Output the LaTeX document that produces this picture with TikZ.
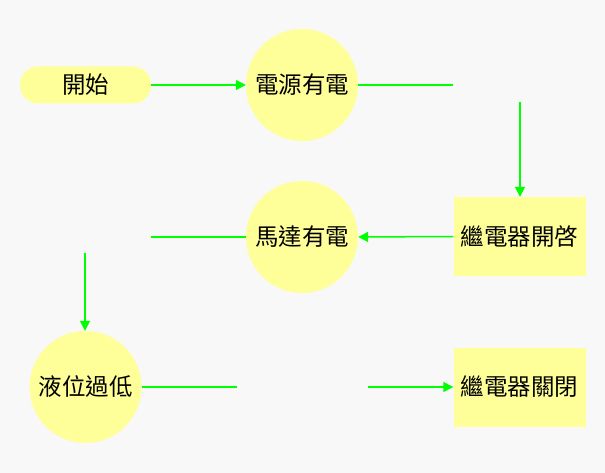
\documentclass[tikz,border=0pt]{standalone}
\usepackage{fontspec}
\newfontfamily\cjk{Noto Sans CJK TC}
\usetikzlibrary{arrows.meta}
\definecolor{bgcol}{HTML}{F8F8F8}
\definecolor{nodefill}{HTML}{FFFF99}
\definecolor{linkcol}{HTML}{00FF00}
\begin{document}
\begin{tikzpicture}[x=1pt,y=-1pt,
  every node/.style={font=\cjk\fontsize{23.5}{26}\selectfont, text=black, inner sep=0pt},
  pill/.style={fill=nodefill, rounded corners=18pt, minimum width=131pt, minimum height=37pt},
  disc/.style={fill=nodefill, circle, minimum size=112pt},
  box/.style={fill=nodefill, minimum width=132pt, minimum height=79pt},
  link/.style={draw=linkcol, line width=1.5pt},
  arrowlink/.style={link, -{Triangle[length=10pt,width=10pt]}}]
  % canvas
  \fill[bgcol] (0,0) rectangle (605,473);
  \useasboundingbox (0,0) rectangle (605,473);

  % nodes
  \node[pill] (start) at (85.5,85) {開始};
  \node[disc] (power) at (302,85) {電源有電};
  \node[box] (relayon) at (519.5,236.5) {繼電器開啓};
  \node[disc] (motor) at (302,237) {馬達有電};
  \node[disc] (level) at (85.5,387) {液位過低};
  \node[box] (relayoff) at (519.5,387) {繼電器關閉};

  % free ends of the open connectors
  \coordinate (e1) at (453,85);
  \coordinate (s1) at (520,102);
  \coordinate (e2) at (151,237);
  \coordinate (s2) at (85,253);
  \coordinate (e3) at (237,387);
  \coordinate (s3) at (368,387);

  % connectors
  \draw[arrowlink] (start.east) -- (power.west);
  \draw[link] (power.east) -- (e1);
  \draw[arrowlink] (s1) -- (s1 |- relayon.north);
  \draw[arrowlink] (relayon.west) -- (motor.east);
  \draw[link] (motor.west) -- (e2);
  \draw[arrowlink] (s2) -- (s2 |- level.north);
  \draw[link] (level.east) -- (e3);
  \draw[arrowlink] (s3) -- (relayoff.west);
\end{tikzpicture}
\end{document}
